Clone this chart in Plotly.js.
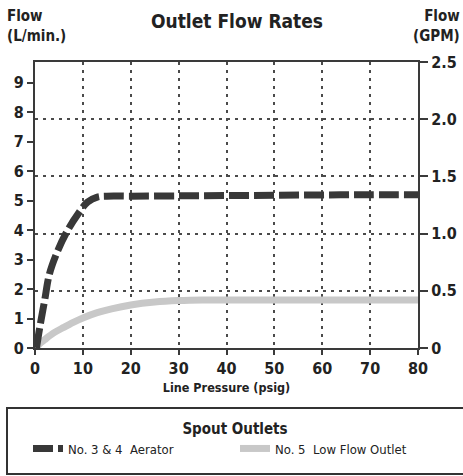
<!DOCTYPE html>
<html><head><meta charset="utf-8">
<script src="https://cdn.plot.ly/plotly-3.0.1.min.js"></script>
<style>html,body{margin:0;padding:0;background:#fff}#chart{width:463px;height:476px}</style>
</head><body><div id="chart"></div>
<script>
// Line pressure (psig) and flow (L/min.)
const aeratorPressure = [0.3, 1, 2, 3, 4.5, 6.5, 9, 11, 13, 15, 20, 30, 40, 50, 60, 70, 80];
const aeratorFlowLpm  = [0, 0.7, 1.6, 2.5, 3.2, 3.9, 4.55, 4.95, 5.12, 5.15, 5.15, 5.16, 5.17, 5.18, 5.19, 5.2, 5.2];
const lowFlowPressure = [0.3, 1, 2, 4, 6, 8, 10, 13, 16, 20, 25, 30, 35, 40, 50, 60, 70, 80];
const lowFlowLpm      = [0, 0.15, 0.28, 0.52, 0.7, 0.87, 1.02, 1.2, 1.33, 1.46, 1.56, 1.61, 1.63, 1.63, 1.63, 1.63, 1.63, 1.63];
const seriesNames = ['No. 3 &amp; 4  Aerator', 'No. 5  Low Flow Outlet'];
const xTicks = [0, 10, 20, 30, 40, 50, 60, 70, 80];
const lpmTicks = [0, 1, 2, 3, 4, 5, 6, 7, 8, 9];
const gpmTicks = [0, 0.5, 1.0, 1.5, 2.0, 2.5];
const gpmTickText = ['0', '0.5', '1.0', '1.5', '2.0', '2.5'];

const FONT = '"DejaVu Sans Condensed", "Liberation Sans Narrow", Arial, sans-serif';
const AX = '#3a3a3a';
const GRID = '#4a4a4a';

const traces = [
  {x: lowFlowPressure, y: lowFlowLpm, type: 'scatter', mode: 'lines', name: seriesNames[1],
   line: {color: '#c8c8c8', width: 7, shape: 'spline'}, yaxis: 'y', legendrank: 2},
  {x: aeratorPressure, y: aeratorFlowLpm, type: 'scatter', mode: 'lines', name: seriesNames[0],
   line: {color: '#383838', width: 7, dash: '20px,5px', shape: 'spline'}, yaxis: 'y', legendrank: 1},
  // anchor trace so the right-hand GPM axis is drawn
  {x: [null], y: [null], type: 'scatter', mode: 'lines', yaxis: 'y2', showlegend: false, hoverinfo: 'skip'}
];

const layout = {
  width: 463, height: 476,
  margin: {l: 35, r: 45, t: 62, b: 128},
  paper_bgcolor: '#fff', plot_bgcolor: '#fff',
  font: {family: FONT, color: '#222', size: 16},
  showlegend: true,
  title: {text: '<b>Outlet Flow Rates</b>', font: {family: FONT, size: 19, color: '#222'},
          xref: 'container', x: 237/463, xanchor: 'center', yref: 'container', y: 1 - 21/476, yanchor: 'middle'},
  xaxis: {range: [0, 80], tickvals: xTicks, ticktext: xTicks.map(String), showline: true, linecolor: AX, linewidth: 2,
          mirror: true, ticks: 'outside', ticklen: 5, tickwidth: 2, tickcolor: AX,
          showgrid: true, gridcolor: GRID, gridwidth: 2, griddash: '3px,5px', zeroline: false,
          tickfont: {family: FONT, size: 16, color: '#222', weight: 'bold'},
          title: {text: '<b>Line Pressure (psig)</b>', font: {family: FONT, size: 12.5, color: '#222'}, standoff: 6}},
  yaxis: {range: [0, 9.7], tickvals: lpmTicks, showline: true, linecolor: AX, linewidth: 2, ticks: 'outside',
          ticklen: 6, tickwidth: 2, tickcolor: AX, showgrid: false, zeroline: false,
          tickfont: {family: FONT, size: 16, color: '#222', weight: 'bold'}},
  yaxis2: {range: [0, 2.5], tickvals: gpmTicks, ticktext: gpmTickText, overlaying: 'y', side: 'right',
           showline: true, linecolor: AX, linewidth: 2, ticks: 'outside', ticklen: 8, tickwidth: 2, tickcolor: AX,
           showgrid: true, gridcolor: GRID, gridwidth: 2, griddash: '3px,5px', zeroline: false,
           tickfont: {family: FONT, size: 16, color: '#222', weight: 'bold'}},
  legend: {orientation: 'h', x: (28-35)/383, xanchor: 'left', y: -(414-348)/286, yanchor: 'top', traceorder: 'normal',
           entrywidth: 162, entrywidthmode: 'pixels', bgcolor: 'rgba(0,0,0,0)',
           font: {family: FONT, size: 13, color: '#222'},
           title: {text: '<b>Spout Outlets</b>', side: 'top center', font: {family: FONT, size: 15, color: '#222'}}},
  shapes: [
    {type: 'rect', xref: 'paper', yref: 'paper', x0: (7-35)/383, x1: (475-35)/383,
     y0: -(474-348)/286, y1: -(408-348)/286, line: {color: '#333', width: 2}, fillcolor: 'rgba(0,0,0,0)'}
  ],
  annotations: [
    {text: '<b>Flow<br>(L/min.)</b>', xref: 'paper', yref: 'paper', x: (5-35)/383, xanchor: 'left',
     y: 1 + (62-5)/286, yanchor: 'top', align: 'left', showarrow: false, font: {family: FONT, size: 15, color: '#222'}},
    {text: '<b>Flow<br>(GPM)</b>', xref: 'paper', yref: 'paper', x: (462-35)/383, xanchor: 'right',
     y: 1 + (62-5)/286, yanchor: 'top', align: 'right', showarrow: false, font: {family: FONT, size: 15, color: '#222'}}
  ]
};
Plotly.newPlot('chart', traces, layout, {displayModeBar: false, staticPlot: true});
</script></body></html>
